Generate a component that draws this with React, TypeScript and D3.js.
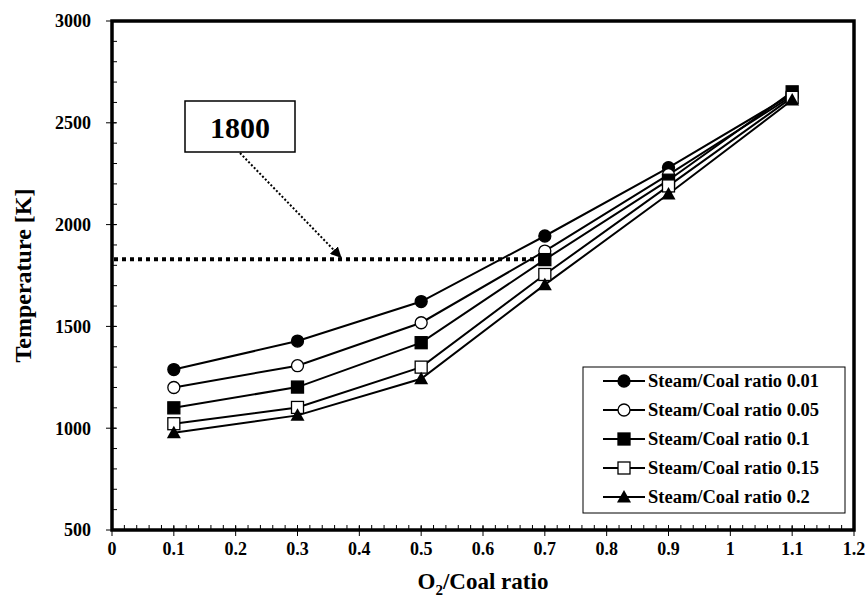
import { useEffect, useRef } from 'react';
import * as d3 from 'd3';

const o2Ratios = [0.1, 0.3, 0.5, 0.7, 0.9, 1.1];
const seriesNames = [
  'Steam/Coal ratio 0.01',
  'Steam/Coal ratio 0.05',
  'Steam/Coal ratio 0.1',
  'Steam/Coal ratio 0.15',
  'Steam/Coal ratio 0.2',
];
const steam001 = [1288, 1428, 1622, 1944, 2280, 2640];
const steam005 = [1200, 1307, 1518, 1870, 2245, 2632];
const steam01 = [1100, 1202, 1420, 1828, 2218, 2652];
const steam015 = [1022, 1102, 1300, 1755, 2190, 2625];
const steam02 = [978, 1063, 1243, 1705, 2150, 2612];
const markerKinds = ['circleFilled', 'circleOpen', 'squareFilled', 'squareOpen', 'triangle'];
const xTicks = [0, 0.1, 0.2, 0.3, 0.4, 0.5, 0.6, 0.7, 0.8, 0.9, 1, 1.1, 1.2];
const yTicks = [500, 1000, 1500, 2000, 2500, 3000];
const limitLevel = 1830;
const limitLabel = '1800';

const FONT = '"Liberation Serif", "Times New Roman", serif';

export default function App() {
  const ref = useRef<SVGSVGElement | null>(null);

  useEffect(() => {
    if (!ref.current) return;
    const svg = d3.select(ref.current);
    svg.selectAll('*').remove();

    const left = 112, right = 854, top = 21, bottom = 530;
    const x = d3.scaleLinear().domain([0, 1.2]).range([left, right]);
    const y = d3.scaleLinear().domain([500, 3000]).range([bottom, top]);

    const defs = svg.append('defs');
    defs.append('marker')
      .attr('id', 'arrow')
      .attr('viewBox', '0 0 10 10')
      .attr('refX', 9).attr('refY', 5)
      .attr('markerWidth', 11).attr('markerHeight', 11)
      .attr('markerUnits', 'userSpaceOnUse')
      .attr('orient', 'auto')
      .append('path').attr('d', 'M0,0 L10,5 L0,10 Z').attr('fill', '#000');

    // minor ticks (inside)
    const g = svg.append('g');
    d3.range(0, 1.2001, 0.02).forEach(v => {
      g.append('line').attr('x1', x(v)).attr('x2', x(v)).attr('y1', bottom - 5).attr('y2', bottom)
        .attr('stroke', '#000').attr('stroke-width', 1);
    });
    d3.range(500, 3001, 100).forEach(v => {
      g.append('line').attr('x1', left).attr('x2', left + 5).attr('y1', y(v)).attr('y2', y(v))
        .attr('stroke', '#000').attr('stroke-width', 1);
    });
    // major ticks (cross)
    xTicks.forEach(v => {
      g.append('line').attr('x1', x(v)).attr('x2', x(v)).attr('y1', bottom - 4).attr('y2', bottom + 6)
        .attr('stroke', '#000').attr('stroke-width', 1);
      g.append('text').attr('x', x(v)).attr('y', bottom + 25).attr('text-anchor', 'middle')
        .attr('font-family', FONT).attr('font-weight', 'bold').attr('font-size', 18)
        .text(String(v));
    });
    yTicks.forEach(v => {
      g.append('line').attr('x1', left - 6).attr('x2', left + 4).attr('y1', y(v)).attr('y2', y(v))
        .attr('stroke', '#000').attr('stroke-width', 1);
      g.append('text').attr('x', left - 21).attr('y', y(v)).attr('dy', '0.35em').attr('text-anchor', 'end')
        .attr('font-family', FONT).attr('font-weight', 'bold').attr('font-size', 18)
        .text(String(v));
    });

    // frame
    svg.append('rect').attr('x', left).attr('y', top).attr('width', right - left).attr('height', bottom - top)
      .attr('fill', 'none').attr('stroke', '#000').attr('stroke-width', 3.5);

    // axis titles
    const xt = svg.append('text').attr('x', (left + right) / 2).attr('y', 589).attr('text-anchor', 'middle')
      .attr('font-family', FONT).attr('font-weight', 'bold').attr('font-size', 23);
    xt.append('tspan').text('O');
    xt.append('tspan').attr('font-size', 15).attr('dy', 6).text('2');
    xt.append('tspan').attr('dy', -6).text('/Coal ratio');
    svg.append('text').attr('transform', `translate(23,${(top + bottom) / 2}) rotate(-90)`)
      .attr('dy', '0.35em')
      .attr('text-anchor', 'middle').attr('font-family', FONT).attr('font-weight', 'bold').attr('font-size', 24)
      .text('Temperature [K]');

    // limit line
    svg.append('line').attr('x1', left + 2).attr('x2', x(0.7) - 6).attr('y1', y(limitLevel)).attr('y2', y(limitLevel))
      .attr('stroke', '#000').attr('stroke-width', 4).attr('stroke-dasharray', '4 4');

    // annotation box + arrow
    svg.append('line').attr('x1', 240).attr('y1', 153).attr('x2', x(0.37)).attr('y2', y(limitLevel) - 2)
      .attr('stroke', '#000').attr('stroke-width', 2).attr('stroke-dasharray', '2 2')
      .attr('marker-end', 'url(#arrow)');
    svg.append('rect').attr('x', 185).attr('y', 101).attr('width', 110).attr('height', 51)
      .attr('fill', '#fff').attr('stroke', '#000').attr('stroke-width', 1.5);
    svg.append('text').attr('x', 240).attr('y', 127).attr('dy', '0.35em').attr('text-anchor', 'middle')
      .attr('font-family', FONT).attr('font-weight', 'bold').attr('font-size', 30).text(limitLabel);

    const allSeries = [steam001, steam005, steam01, steam015, steam02];
    const line = d3.line<number>().x((_, i) => x(o2Ratios[i])).y(d => y(d));

    const drawMarker = (sel: any, kind: string, cx: number, cy: number) => {
      if (kind.startsWith('circle')) {
        sel.append('circle').attr('cx', cx).attr('cy', cy).attr('r', 6)
          .attr('fill', kind === 'circleFilled' ? '#000' : '#fff').attr('stroke', '#000').attr('stroke-width', 1.3);
      } else if (kind.startsWith('square')) {
        sel.append('rect').attr('x', cx - 6).attr('y', cy - 6).attr('width', 12).attr('height', 12)
          .attr('fill', kind === 'squareFilled' ? '#000' : '#fff').attr('stroke', '#000').attr('stroke-width', 1.3);
      } else {
        sel.append('path').attr('d', `M${cx},${cy - 7} L${cx + 7},${cy + 5.5} L${cx - 7},${cy + 5.5} Z`)
          .attr('fill', '#000');
      }
    };

    allSeries.forEach(s => {
      svg.append('path').attr('d', line(s)).attr('fill', 'none').attr('stroke', '#000').attr('stroke-width', 2);
    });
    allSeries.forEach((s, si) => {
      const mg = svg.append('g');
      s.forEach((v, i) => drawMarker(mg, markerKinds[si], x(o2Ratios[i]), y(v)));
    });

    // legend
    const lg = svg.append('g');
    lg.append('rect').attr('x', 583).attr('y', 367).attr('width', 262).attr('height', 146)
      .attr('fill', '#fff').attr('stroke', '#000').attr('stroke-width', 1);
    seriesNames.forEach((name, i) => {
      const ly = 381 + i * 29;
      lg.append('line').attr('x1', 603).attr('x2', 645).attr('y1', ly).attr('y2', ly)
        .attr('stroke', '#000').attr('stroke-width', 2);
      drawMarker(lg, markerKinds[i], 624, ly);
      lg.append('text').attr('x', 648).attr('y', ly).attr('dy', '0.35em')
        .attr('font-family', FONT).attr('font-weight', 'bold').attr('font-size', 18.5).text(name);
    });
  }, []);

  return (
    <svg ref={ref} width={867} height={599}
      style={{ display: 'block', background: '#fff', position: 'fixed', left: 0, top: 0 }} />
  );
}
